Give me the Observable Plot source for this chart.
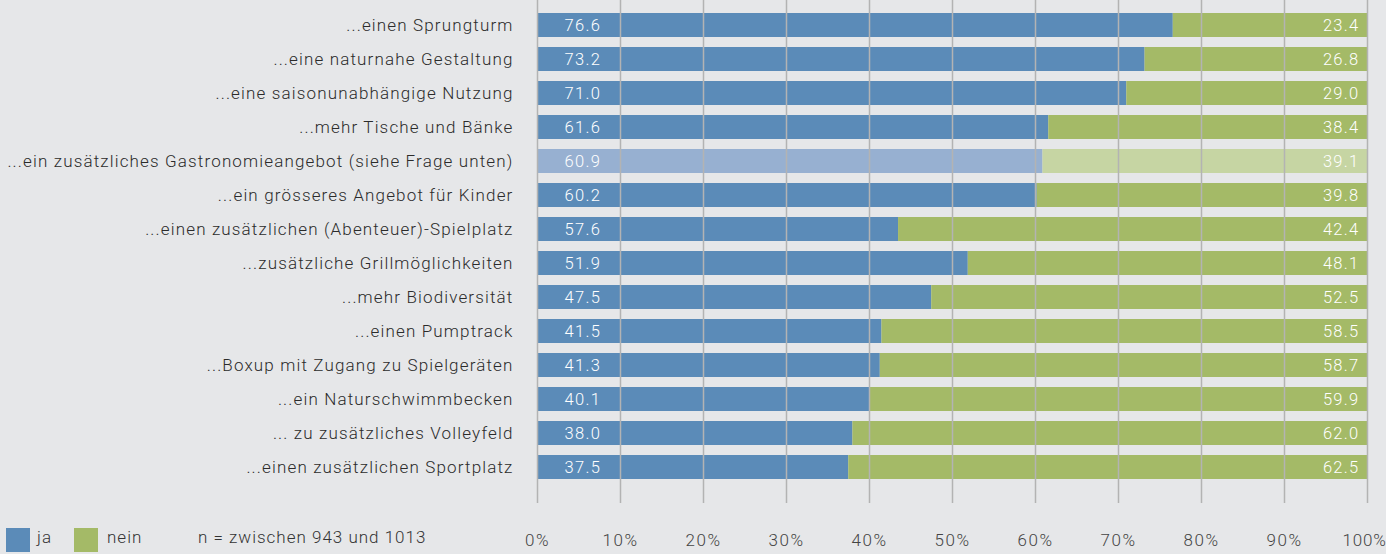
<!DOCTYPE html>
<html><head><meta charset="utf-8">
<script src="https://cdn.jsdelivr.net/npm/d3@7"></script>
<script src="https://cdn.jsdelivr.net/npm/@observablehq/plot@0.6"></script>
<style>
html,body{margin:0;padding:0;background:#e6e7e9;}
#wrap{position:relative;width:1386px;height:554px;overflow:hidden;font-family:Roboto,"Liberation Sans",sans-serif;font-weight:300;color:#333;}
.legend{position:absolute;left:0;top:526px;height:26px;width:520px;font-size:17px;letter-spacing:1px;}
.sw{position:absolute;top:2px;width:24px;height:24px;}
.lt{position:absolute;top:1px;line-height:20px;}
.ylab text{letter-spacing:1.15px;}
.xlab text{letter-spacing:1.5px;}
.xlab2 text{letter-spacing:0.8px;}
.vlab text{letter-spacing:1.3px;}
</style></head><body><div id="wrap"></div>
<script>
const categories = [
  "...einen Sprungturm",
  "...eine naturnahe Gestaltung",
  "...eine saisonunabhängige Nutzung",
  "...mehr Tische und Bänke",
  "...ein zusätzliches Gastronomieangebot (siehe Frage unten)",
  "...ein grösseres Angebot für Kinder",
  "...einen zusätzlichen (Abenteuer)-Spielplatz",
  "...zusätzliche Grillmöglichkeiten",
  "...mehr Biodiversität",
  "...einen Pumptrack",
  "...Boxup mit Zugang zu Spielgeräten",
  "...ein Naturschwimmbecken",
  "... zu zusätzliches Volleyfeld",
  "...einen zusätzlichen Sportplatz"
];
const jaValues   = [76.6, 73.2, 71.0, 61.6, 60.9, 60.2, 57.6, 51.9, 47.5, 41.5, 41.3, 40.1, 38.0, 37.5];
const neinValues = [23.4, 26.8, 29.0, 38.4, 39.1, 39.8, 42.4, 48.1, 52.5, 58.5, 58.7, 59.9, 62.0, 62.5];
// bar lengths as drawn in the picture (the Abenteuer-Spielplatz bar is drawn shorter than its label)
const jaBarLengths = [76.6, 73.2, 71.0, 61.6, 60.9, 60.2, 43.5, 51.9, 47.5, 41.5, 41.3, 40.1, 38.0, 37.5];
const highlighted = "...ein zusätzliches Gastronomieangebot (siehe Frage unten)";
const xTicks = [0, 10, 20, 30, 40, 50, 60, 70, 80, 90, 100];
const seriesNames = ["ja", "nein"];
const seriesColors = ["#5b8bb8", "#a4ba67"];
const seriesColorsLight = ["#97b0d1", "#c6d5a3"];
const noteText = "n = zwischen 943 und 1013";

const rows = categories.map((c, i) => ({cat: c, ja: jaValues[i], nein: neinValues[i], bar: jaBarLengths[i], hi: c === highlighted}));
const lastTick = xTicks[xTicks.length - 1];

const plot = Plot.plot({
  width: 1386, height: 554,
  marginLeft: 537, marginRight: 19, marginTop: 0, marginBottom: 51,
  style: {background: "transparent", fontFamily: "Roboto, 'Liberation Sans', sans-serif", fontWeight: 300, fontSize: "17px", color: "#333"},
  x: {domain: [0, 100]},
  y: {domain: categories, range: [1.8, 489.2], paddingInner: 0.3, paddingOuter: 0.3},
  marks: [
    Plot.barX(rows, {y: "cat", x1: 0, x2: "bar", fill: d => d.hi ? seriesColorsLight[0] : seriesColors[0]}),
    Plot.barX(rows, {y: "cat", x1: "bar", x2: 100, fill: d => d.hi ? seriesColorsLight[1] : seriesColors[1]}),
    Plot.ruleX(xTicks, {stroke: "#b3b3b3", strokeWidth: 1.5}),
    Plot.text(rows, {y: "cat", x: 0, text: d => d.ja.toFixed(1), textAnchor: "start", dx: 27, fill: "white", fontSize: 16.5, className: "vlab"}),
    Plot.text(rows, {y: "cat", x: 100, text: d => d.nein.toFixed(1), textAnchor: "end", dx: -8, fill: "white", fontSize: 16.5, className: "vlab"}),
    Plot.axisY({tickSize: 0, tickPadding: 24, label: null, fill: "#2b2b2b", className: "ylab"}),
    Plot.axisX(xTicks.filter(t => t !== lastTick), {tickSize: 0, tickPadding: 30, tickFormat: d => d + "%", label: null, fill: "#444", className: "xlab"}),
    Plot.axisX([lastTick], {tickSize: 0, tickPadding: 30, tickFormat: d => d + "%", label: null, fill: "#444", className: "xlab2", textAnchor: "end", dx: 19})
  ]
});
const wrap = document.getElementById("wrap");
wrap.appendChild(plot);
const legend = document.createElement("div");
legend.className = "legend";
legend.innerHTML =
  `<div class="sw" style="left:6px;background:${seriesColors[0]}"></div><div class="lt" style="left:37px">${seriesNames[0]}</div>` +
  `<div class="sw" style="left:74px;background:${seriesColors[1]}"></div><div class="lt" style="left:107px">${seriesNames[1]}</div>` +
  `<div class="lt" style="left:198px">${noteText}</div>`;
wrap.appendChild(legend);
</script></body></html>
